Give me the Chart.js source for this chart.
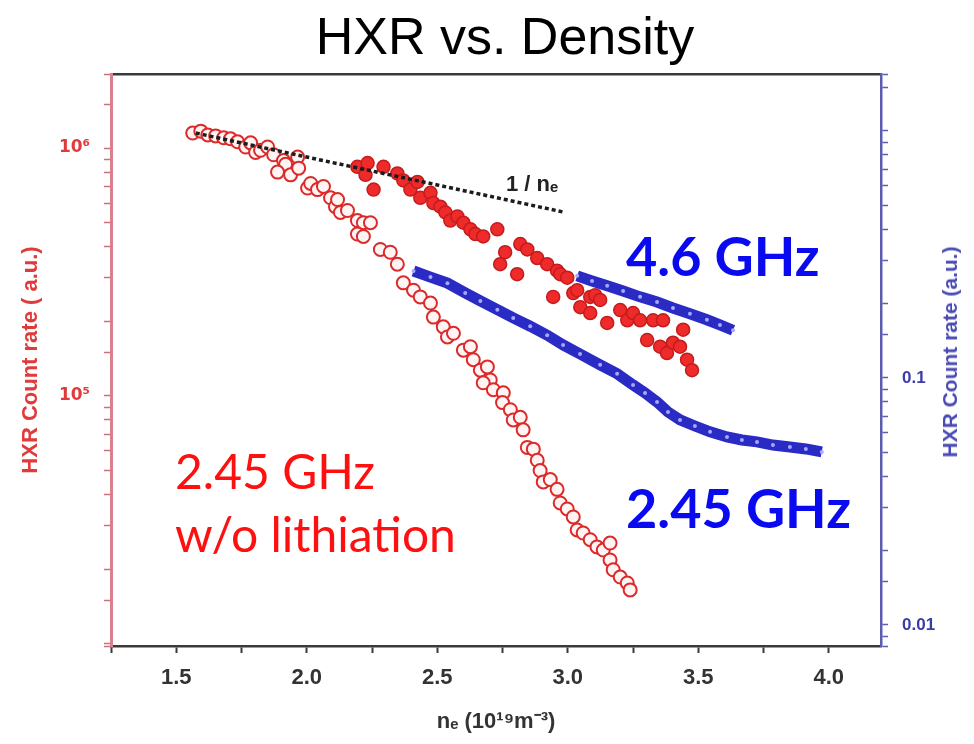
<!DOCTYPE html>
<html>
<head>
<meta charset="utf-8">
<title>HXR vs. Density</title>
<script src="https://cdn.jsdelivr.net/npm/chart.js@4.4.1/dist/chart.umd.min.js"></script>
<style>
    html, body { margin: 0; padding: 0; background: #fff; }
    #wrap { position: relative; width: 974px; height: 744px; overflow: hidden; }
    #hxrChart { position: absolute; left: 0; top: 0; }
    .lbl { position: absolute; white-space: nowrap; line-height: 1; }
    #title { left: 205px; top: 6px; width: 600px; text-align: center; font: 52px "Liberation Sans", Arial, sans-serif; color: #000; }
    .blue { font: bold 54px Lato, sans-serif; color: #0a0af0; left: 626px; }
    .red { font: 48px Lato, sans-serif; color: #ff1010; left: 175px; }
    #fitLabel { left: 506px; top: 171px; font: bold 22px "Liberation Sans", Arial, sans-serif; color: #222; }
    #rightTitle { left: 950px; top: 352px; transform: translate(-50%, -50%) rotate(-90deg);
                  font: bold 21px "Liberation Sans", Arial, sans-serif; color: #4a4ab4; }
</style>
</head>
<body>
<div id="wrap">
    <canvas id="hxrChart" width="974" height="744"></canvas>
    <div class="lbl" id="title">HXR vs. Density</div>
    <div class="lbl blue" style="top:223px">4.6 GHz</div>
    <div class="lbl blue" style="top:475px">2.45 GHz</div>
    <div class="lbl red" style="top:442px">2.45 GHz</div>
    <div class="lbl red" style="top:505px">w/o lithiation</div>
    <div class="lbl" id="fitLabel">1 / nₑ</div>
    <div class="lbl" id="rightTitle">HXR Count rate (a.u.)</div>
</div>
<script>
// Open red circles: 2.45 GHz without lithiation (left axis)
const openDensity = [1.563, 1.594, 1.621, 1.651, 1.682, 1.708, 1.735, 1.766, 1.785, 1.804, 1.823, 1.850, 1.873, 1.911, 1.919,
    1.888, 1.938, 1.965, 1.969, 2.003, 2.015, 2.041, 2.064, 2.091, 2.110, 2.118, 2.129, 2.156, 2.194, 2.217, 2.244, 2.194, 2.217,
    2.282, 2.320, 2.347, 2.370, 2.409, 2.435, 2.474, 2.485, 2.523, 2.539, 2.562, 2.600, 2.627, 2.638, 2.665, 2.692, 2.703, 2.676,
    2.715, 2.753, 2.750, 2.780, 2.791, 2.818, 2.829, 2.845, 2.868, 2.883, 2.894, 2.906, 2.933, 2.959, 2.971, 2.998, 3.021, 3.036,
    3.059, 3.086, 3.112, 3.136, 3.162, 3.162, 3.174, 3.201, 3.228, 3.239];
const openRate = [1.15e6, 1.17e6, 1.13e6, 1.12e6, 1.10e6, 1.09e6, 1.06e6, 1.01e6, 1.05e6, 9.6e5, 9.8e5, 1.01e6, 9.4e5, 8.9e5, 8.6e5,
    8.0e5, 7.8e5, 9.2e5, 8.3e5, 6.9e5, 7.2e5, 6.8e5, 7.0e5, 6.3e5, 5.8e5, 6.2e5, 5.5e5, 5.6e5, 5.1e5, 5.0e5, 5.0e5, 4.5e5, 4.4e5,
    3.9e5, 3.8e5, 3.4e5, 2.86e5, 2.67e5, 2.51e5, 2.37e5, 2.08e5, 1.90e5, 1.73e5, 1.79e5, 1.53e5, 1.58e5, 1.40e5, 1.27e5, 1.31e5, 1.16e5, 1.13e5,
    1.06e5, 1.03e5, 9.4e4, 8.8e4, 8.0e4, 8.2e4, 7.3e4, 6.2e4, 6.1e4, 5.5e4, 5.0e4, 4.5e4, 4.6e4, 4.2e4, 3.7e4, 3.5e4, 3.25e4, 2.88e4,
    2.80e4, 2.63e4, 2.46e4, 2.39e4, 2.55e4, 2.18e4, 1.99e4, 1.86e4, 1.76e4, 1.65e4];

// Filled red circles (left axis)
const filledDensity = [2.194, 2.225, 2.233, 2.256, 2.294, 2.347, 2.370, 2.397, 2.424, 2.435, 2.474, 2.485, 2.512, 2.531, 2.550,
    2.577, 2.600, 2.627, 2.646, 2.676, 2.730, 2.741, 2.760, 2.806, 2.818, 2.845, 2.883, 2.921, 2.944, 2.959, 2.971, 2.998, 3.021,
    3.036, 3.048, 3.086, 3.086, 3.105, 3.124, 3.151, 3.201, 3.228, 3.250, 3.277, 3.304, 3.327, 3.354, 3.365, 3.380, 3.403, 3.430,
    3.442, 3.457, 3.476];
const filledRate = [8.4e5, 7.8e5, 8.7e5, 6.8e5, 8.4e5, 7.9e5, 7.4e5, 6.8e5, 7.3e5, 6.3e5, 6.6e5, 6.0e5, 5.8e5, 5.5e5, 5.1e5,
    5.3e5, 5.0e5, 4.7e5, 4.5e5, 4.4e5, 4.7e5, 3.4e5, 3.8e5, 3.1e5, 4.1e5, 3.9e5, 3.6e5, 3.4e5, 2.51e5, 3.2e5, 3.1e5, 3.0e5, 2.60e5,
    2.67e5, 2.28e5, 2.51e5, 2.16e5, 2.55e5, 2.44e5, 1.97e5, 2.22e5, 2.02e5, 2.16e5, 2.02e5, 1.68e5, 2.02e5, 1.58e5, 2.02e5, 1.49e5,
    1.64e5, 1.58e5, 1.85e5, 1.40e5, 1.27e5];

// Dashed 1/ne reference line (left axis)
const fitDensity = [1.575, 2.0, 2.5, 2.99];
const fitRate = [1.15e6, 9.2e5, 7.1e5, 5.5e5];

// Blue curves (right axis)
const density245 = [2.409, 2.474, 2.539, 2.607, 2.665, 2.730, 2.791, 2.856, 2.921, 2.982, 3.047, 3.124, 3.189, 3.250, 3.296,
    3.342, 3.384, 3.430, 3.487, 3.545, 3.610, 3.667, 3.725, 3.786, 3.851, 3.912, 3.973];
const rate245 = [0.271, 0.256, 0.242, 0.221, 0.205, 0.189, 0.175, 0.162, 0.149, 0.136, 0.125, 0.113, 0.104, 0.0937, 0.0870,
    0.0799, 0.0728, 0.0676, 0.0639, 0.0605, 0.0577, 0.0561, 0.0551, 0.0535, 0.0525, 0.0516, 0.0502];
const density46 = [3.036, 3.093, 3.151, 3.212, 3.277, 3.342, 3.403, 3.468, 3.533, 3.583, 3.633];
const rate46 = [0.259, 0.247, 0.236, 0.225, 0.213, 0.203, 0.192, 0.182, 0.172, 0.164, 0.156];

// Tick labels
const xTickValues = [1.5, 2.0, 2.5, 3.0, 3.5, 4.0];
const xTickLabels = ['1.5', '2.0', '2.5', '3.0', '3.5', '4.0'];
const leftMajorTicks = [1e5, 1e6];
const leftTickLabels = ['10⁵', '10⁶'];
const rightMajorTicks = [0.01, 0.1];
const rightTickLabels = ['0.01', '0.1'];

const toPoints = (xs, ys) => xs.map((x, i) => ({ x: x, y: ys[i] }));

function logLabel(value, ticks, labels) {
    const i = ticks.findIndex(t => Math.abs(Math.log10(value) - Math.log10(t)) < 1e-6);
    return i >= 0 ? labels[i] : '';
}

const tickFont = { family: '"Liberation Sans", Arial, sans-serif', weight: 'bold' };
const ctx = document.getElementById('hxrChart').getContext('2d');

const hxrChart = new Chart(ctx, {
    type: 'scatter',
    data: {
        datasets: [
            {
                label: '4.6 GHz', data: toPoints(density46, rate46), yAxisID: 'yRight', order: 1,
                showLine: true, borderColor: '#2a2ac4', borderWidth: 11, tension: 0,
                pointRadius: 2, pointBackgroundColor: '#a8a8ff', pointBorderWidth: 0
            },
            {
                label: '2.45 GHz', data: toPoints(density245, rate245), yAxisID: 'yRight', order: 1,
                showLine: true, borderColor: '#2a2ac4', borderWidth: 11, tension: 0,
                pointRadius: 2, pointBackgroundColor: '#a8a8ff', pointBorderWidth: 0
            },
            {
                label: '1 / ne', data: toPoints(fitDensity, fitRate), yAxisID: 'yLeft', order: 2,
                showLine: true, borderColor: '#1c1c1c', borderWidth: 3.5, borderDash: [4, 3], pointRadius: 0
            },
            {
                label: 'filled', data: toPoints(filledDensity, filledRate), yAxisID: 'yLeft', order: 3,
                pointRadius: 6.5, pointBackgroundColor: '#ee2a2a', pointBorderColor: '#c41c1c', pointBorderWidth: 1.5
            },
            {
                label: 'w/o lithiation', data: toPoints(openDensity, openRate), yAxisID: 'yLeft', order: 4,
                pointRadius: 6.5, pointBackgroundColor: '#fff4f4', pointBorderColor: '#dc2a2a', pointBorderWidth: 2
            }
        ]
    },
    options: {
        responsive: false,
        animation: false,
        layout: { padding: { top: 74, left: 0, right: 0, bottom: 0 } },
        plugins: { legend: { display: false }, tooltip: { enabled: false } },
        scales: {
            x: {
                type: 'linear', position: 'bottom', min: 1.25, max: 4.2,
                afterFit: s => { s.height = 98; },
                border: { color: '#3a3a3a', width: 2.5 },
                grid: { drawOnChartArea: false, tickLength: 7, tickColor: '#3a3a3a', tickWidth: 2 },
                ticks: {
                    stepSize: 0.25, includeBounds: false, autoSkip: false, maxRotation: 0, padding: 12, color: '#333',
                    font: { ...tickFont, size: 22 },
                    callback: v => {
                        const i = xTickValues.findIndex(t => Math.abs(t - v) < 1e-6);
                        return i >= 0 ? xTickLabels[i] : '';
                    }
                },
                title: {
                    display: true, text: 'nₑ (10¹⁹m⁻³)', color: '#333',
                    font: { ...tickFont, size: 22 }, padding: { top: 0, bottom: 9 }
                }
            },
            xTop: {
                type: 'linear', position: 'top', min: 1.25, max: 4.2,
                afterFit: s => { s.height = 0; },
                border: { color: '#3a3a3a', width: 2.5 },
                grid: { drawOnChartArea: false, drawTicks: false },
                ticks: { display: false }
            },
            yLeft: {
                type: 'logarithmic', position: 'left', min: 9.8e3, max: 1.99e6,
                afterFit: s => { s.width = 111; },
                border: { color: '#d9808c', width: 3 },
                grid: { drawOnChartArea: false, tickLength: 7, tickColor: '#c9707c', tickWidth: 1.5 },
                ticks: {
                    autoSkip: false, padding: 14, color: '#e03a3a',
                    font: { family: '"DejaVu Sans", sans-serif', weight: 'bold', size: 17 },
                    callback: v => logLabel(v, leftMajorTicks, leftTickLabels)
                },
                title: {
                    display: true, text: 'HXR Count rate ( a.u.)', color: '#e03a3a',
                    font: { ...tickFont, size: 22 }, padding: { top: 18, bottom: 0 }
                }
            },
            yRight: {
                type: 'logarithmic', position: 'right', min: 0.00822, max: 1.70,
                afterFit: s => { s.width = 93; },
                border: { color: '#5c5cb0', width: 2.5 },
                grid: { drawOnChartArea: false, tickLength: 7, tickColor: '#5c5cb0', tickWidth: 1.5 },
                ticks: {
                    autoSkip: false, padding: 14, color: '#3c3ca8', font: { ...tickFont, size: 17 },
                    callback: v => logLabel(v, rightMajorTicks, rightTickLabels)
                }
            }
        }
    }
});
</script>
</body>
</html>
